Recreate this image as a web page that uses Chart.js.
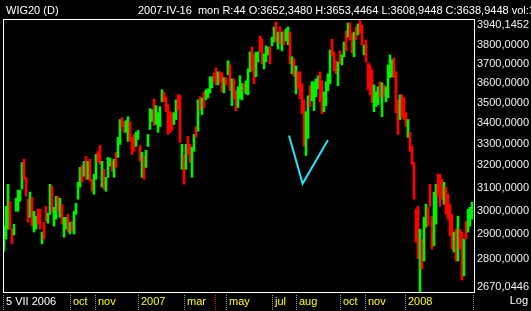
<!DOCTYPE html>
<html>
<head>
<meta charset="utf-8">
<script src="https://cdn.jsdelivr.net/npm/chart.js@4/dist/chart.umd.min.js"></script>
<style>
html, body { margin: 0; padding: 0; background: #000; }
canvas { display: block; }
</style>
</head>
<body>
<canvas id="wig" width="531" height="311"></canvas>
<script>
// WIG20 daily bars, 5 VII 2006 .. III 2008 (one bar per ~2 sessions)
const highs = [
  2934,3018,3115,3040,2921,2942,3053,3089,3089,3214,
  3228,3146,3049,3080,3058,2997,2976,3006,3006,2909,
  2950,3018,2988,3115,3106,3014,3062,3062,3053,3027,
  2971,2971,2984,2950,2955,2997,3031,3124,3191,3200,
  3219,3242,3219,3228,3137,3160,3251,3265,3293,3219,
  3182,3146,3237,3233,3219,3228,3260,3331,3417,3427,
  3407,3412,3431,3407,3331,3345,3355,3364,3293,3260,
  3242,3270,3345,3471,3466,3520,3486,3451,3481,3566,
  3555,3530,3491,3456,3451,3451,3515,3540,3540,3298,
  3251,3298,3336,3298,3284,3345,3383,3515,3530,3525,
  3555,3566,3571,3633,3633,3653.4464,3680,3659,3659,3653,
  3628,3628,3717,3695,3622,3622,3561,3581,3638,3597,
  3597,3612,3674,3764,3791,3753,3764,3764,3851,3834,
  3753,3797,3791,3791,3845,3901,3929,3873,3901,3873,
  3879,3890,3901,3873,3738,3727,3690,3659,3659,3597,
  3515,3456,3535,3586,3607,3607,3622,3638,3659,3612,
  3555,3607,3648,3775,3834,3764,3717,3711,3770,3748,
  3818,3879,3923,3923,3867,3873,3901,3918,3940.1452,3912,
  3802,3829,3706,3695,3669,3591,3555,3581,3607,3602,
  3591,3581,3695,3748,3722,3732,3659,3515,3540,3540,
  3525,3451,3417,3355,3288,3214,3006,3018,2921,2880,
  2971,3027,3014,3115,2976,3080,3115,3160,3160,3137,
  3124,3102,3071,3027,2984,2909,2921,2976,2921,2909,
  2880,2955,3006,3014,3036
];
const lows = [
  2831,2880,2921,2921,2860,2897,2997,2997,3040,3093,
  3137,3062,2950,2971,2934,2909,2921,2942,2921,2860,
  2880,2955,2946,2984,2993,2934,2963,2997,2971,2942,
  2888,2921,2909,2901,2913,2901,2984,3049,3102,3124,
  3151,3137,3137,3128,3084,3071,3137,3214,3205,3102,
  3093,3084,3146,3196,3173,3146,3191,3237,3298,3383,
  3355,3355,3312,3312,3251,3265,3288,3321,3219,3146,
  3137,3191,3288,3369,3407,3388,3393,3355,3383,3505,
  3505,3456,3345,3355,3364,3393,3417,3466,3307,3182,
  3115,3182,3251,3214,3146,3265,3331,3360,3461,3441,
  3476,3515,3525,3550,3576,3608.9448,3591,3591,3602,3555,
  3550,3591,3643,3561,3486,3520,3461,3476,3520,3515,
  3555,3545,3540,3659,3664,3597,3633,3711,3764,3701,
  3674,3711,3748,3701,3797,3818,3818,3780,3807,3770,
  3802,3824,3802,3701,3648,3633,3545,3571,3520,3446,
  3288,3246,3326,3481,3510,3461,3530,3571,3505,3446,
  3456,3486,3561,3597,3743,3664,3648,3586,3701,3695,
  3738,3770,3845,3829,3759,3738,3829,3856,3867,3802,
  3748,3711,3566,3540,3500,3456,3481,3491,3525,3431,
  3530,3505,3525,3628,3633,3628,3451,3345,3417,3427,
  3417,3383,3331,3265,3205,3049,2868,2800,2670.0446,2759,
  2791,2929,2934,3018,2839,2852,2942,3062,3018,3049,
  3027,2984,2963,2893,2839,2827,2791,2791,2839,2716,
  2732,2880,2909,2934,2963
];
// u = close above open (green), d = close below open (red)
const dirs = [
  'uuudduuuuu','ddduduuddu','dduuduudud','uududuuuud','ududduuddu',
  'duuududuud','duuddduudu','duuuuduuuu','ddddduuddu','dudduududu',
  'duuuuddudd','udududduuu','duuudduudd','uuuduududu','duudududdd',
  'duuduuuudd','uuuudddudu','ududdududd','udddduuudu','duuuudddud',
  'ddudddddud','uuddduuddd','uddddududd','uduuu'
].join('');

const yTicks = [2670.0446, 2800, 2900, 3000, 3100, 3200, 3300, 3400, 3500, 3600, 3700, 3800, 3940.1452];
const monthTicks = [-0.5, 33, 45.5, 67, 90, 111, 134, 146, 168, 180.5, 200.5];
const monthLabels = ['5 VII 2006', 'oct', 'nov', '2007', 'mar', 'may', 'jul', 'aug', 'oct', 'nov', '2008'];
const cursorIndex = 105.7; // 2007-IV-16
const vMark = [{x: 142.5, y: 3340}, {x: 149.3, y: 3118}, {x: 162, y: 3319}];

const FONT = 'Liberation Sans';
const fmt = v => v.toFixed(4).replace('.', ',');

const frame = {
  id: 'frame',
  beforeDraw(chart) {
    const c = chart.ctx;
    c.save();
    c.fillStyle = '#000';
    c.fillRect(0, 0, chart.width, chart.height);
    c.restore();
  },
  afterDraw(chart) {
    const c = chart.ctx, a = chart.chartArea, x = chart.scales.x;
    c.save();
    c.strokeStyle = '#fff';
    c.lineWidth = 1;
    c.strokeRect(a.left + 0.5, a.top - 0.5, a.right - a.left, a.bottom - a.top + 1);

    const dots = (px, color) => {
      c.fillStyle = color;
      for (let y = 295; y < 311; y += 2) c.fillRect(Math.round(px), y, 1, 1);
    };
    monthTicks.forEach(t => dots(x.getPixelForValue(t), '#909090'));
    dots(x.getPixelForValue(x.max) - 1, '#909090');
    dots(x.getPixelForValue(cursorIndex), '#ff0000');

    c.font = '11px "' + FONT + '"';
    c.fillStyle = '#fff';
    c.textBaseline = 'middle';
    c.fillText('WIG20 (D)', 6, 10.5);
    c.fillText('2007-IV-16  mon R:44 O:3652,3480 H:3653,4464 L:3608,9448 C:3638,9448 vol:1 3', 138, 10.5);
    c.textAlign = 'right';
    c.fillText('Log', 528, 301);
    c.restore();
  }
};

new Chart(document.getElementById('wig'), {
  type: 'bar',
  data: {
    datasets: [
      {
        type: 'line',
        data: vMark,
        borderColor: '#22e4f4',
        borderWidth: 2,
        pointRadius: 0,
        tension: 0,
        order: 0
      },
      {
        data: highs.map((h, i) => ({x: i, y: [lows[i], h]})),
        backgroundColor: ctx => dirs[ctx.dataIndex] === 'u' ? '#00f000' : '#ff0000',
        borderWidth: 0,
        barThickness: 2,
        order: 1
      }
    ]
  },
  options: {
    responsive: false,
    animation: false,
    devicePixelRatio: 1,
    layout: {padding: {left: 3, top: 20, right: 0, bottom: 0}},
    plugins: {legend: {display: false}, tooltip: {enabled: false}},
    scales: {
      x: {
        type: 'linear',
        offset: false,
        min: -0.5,
        max: 235,
        grid: {display: false, drawTicks: false},
        border: {display: false},
        afterBuildTicks: s => { s.ticks = monthTicks.map(v => ({value: v})); },
        afterFit: s => { s.height = 19; },
        ticks: {
          autoSkip: false,
          maxRotation: 0,
          minRotation: 0,
          align: 'start',
          labelOffset: 3,
          padding: 3,
          color: c => c.index === 0 ? '#ffffff' : '#ffff00',
          font: {family: FONT, size: 11},
          callback: (v, i) => monthLabels[i]
        }
      },
      y: {
        type: 'logarithmic',
        position: 'right',
        min: 2670.0446,
        max: 3940.1452,
        grid: {display: false, drawTicks: false},
        border: {display: false},
        afterBuildTicks: s => { s.ticks = yTicks.map(v => ({value: v})); },
        afterFit: s => { s.width = 57; },
        ticks: {
          autoSkip: false,
          padding: 3,
          color: '#f0f0f0',
          font: c => ({
            family: FONT,
            size: 11,
            lineHeight: (c.index === 0 || c.index === yTicks.length - 1) ? '10px' : 1.2
          }),
          callback: (v, i) => {
            if (i === yTicks.length - 1) return ['', fmt(v)];
            if (i === 0) return [fmt(v), ''];
            return fmt(v);
          }
        }
      }
    }
  },
  plugins: [frame]
});
</script>
</body>
</html>
